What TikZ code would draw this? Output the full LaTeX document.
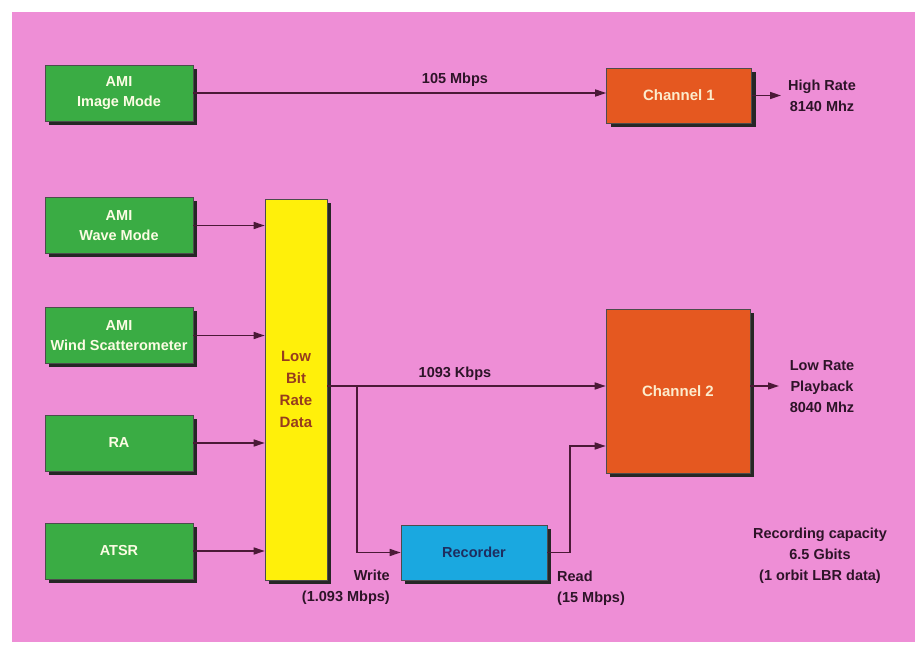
\documentclass[tikz,border=0pt]{standalone}
\usepackage{fontspec}
\setmainfont{Liberation Sans}
\usetikzlibrary{arrows.meta,shadows}
\definecolor{bgpink}{RGB}{238,142,214}
\definecolor{boxgreen}{RGB}{58,172,68}
\definecolor{chorange}{RGB}{229,88,32}
\definecolor{lbryellow}{RGB}{255,240,10}
\definecolor{recblue}{RGB}{26,168,224}
\definecolor{linecol}{RGB}{75,25,55}
\definecolor{labcol}{RGB}{45,20,40}
\definecolor{ybrown}{RGB}{150,60,30}
\definecolor{gtext}{RGB}{252,252,228}
\definecolor{ctext}{RGB}{252,236,205}
\definecolor{rtext}{RGB}{30,45,95}
\tikzset{
  shbox/.style={draw=black!70, line width=0.6pt, rectangle, inner sep=0pt,
    drop shadow={shadow xshift=4pt, shadow yshift=-4pt, opacity=1, fill=black!85}},
  srcbox/.style={shbox, fill=boxgreen, minimum width=148pt, minimum height=56pt,
    text=gtext, align=center, font=\bfseries\fontsize{14.5}{20}\selectfont},
  chbox/.style={shbox, fill=chorange, minimum width=145pt,
    text=ctext, align=center, font=\bfseries\fontsize{15}{16}\selectfont},
  conn/.style={draw=linecol, line width=1.5pt, -{Triangle[length=11pt,width=7pt]}},
  lab/.style={text=labcol, align=center, font=\bfseries\fontsize{14.5}{21}\selectfont, inner sep=0pt}
}
\begin{document}
\begin{tikzpicture}[x=1pt,y=-1pt]
\useasboundingbox (0,0) rectangle (922,647);
\fill[white] (0,0) rectangle (922,647);
\fill[bgpink] (12,12) rectangle (915,642);

% source boxes
\node[srcbox] (img)  at (119,93.5) {AMI\\Image Mode};
\node[srcbox] (wave) at (119,225.5) {AMI\\Wave Mode};
\node[srcbox] (wind) at (119,335.5) {AMI\\Wind Scatterometer};
\node[srcbox] (ra)   at (119,443) {RA};
\node[srcbox] (atsr) at (119,551) {ATSR};

% low bit rate data
\node[shbox, fill=lbryellow, minimum width=62pt, minimum height=381pt,
  text=ybrown, align=center, font=\bfseries\fontsize{15}{22}\selectfont] (lbr) at (296,389.5)
  {Low\\Bit\\Rate\\Data};

% channels
\node[chbox, minimum height=55pt] (ch1) at (679,95.5) {Channel 1};
\node[chbox, minimum width=144pt, minimum height=164pt] (ch2) at (678,391) {Channel 2};

% recorder
\node[shbox, fill=recblue, minimum width=146pt, minimum height=55pt,
  text=rtext, font=\bfseries\fontsize{14.5}{16}\selectfont] (rec) at (474,552.5) {Recorder};

% connectors
\draw[conn] (img.east |- 0,93) -- (ch1.west |- 0,93);
\draw[conn] (wave.east) -- (wave.east -| lbr.west);
\draw[conn] (wind.east) -- (wind.east -| lbr.west);
\draw[conn] (ra.east) -- (ra.east -| lbr.west);
\draw[conn] (atsr.east) -- (atsr.east -| lbr.west);

\coordinate (lbrout) at (lbr.east |- 0,386);
\coordinate (br) at (357,386);
\coordinate (rd) at (570,446);
\coordinate (out1) at (781,95.5);
\coordinate (out2) at (779,386);
\draw[conn] (lbrout) -- (lbrout -| ch2.west);
\draw[conn] (br) |- (rec.west);
\draw[conn] (rec.east) -| (rd) -- (rd -| ch2.west);
\draw[conn] (ch1.east) -- (out1);
\draw[conn] (ch2.east |- out2) -- (out2);

% labels
\node[lab] (l105) at (455,80) {105 Mbps};
\node[lab] (l1093) at (455,374) {1093 Kbps};
\node[lab] (lhigh) at (822,96) {High Rate\\8140 Mhz};
\node[lab] (llow) at (822,387) {Low Rate\\Playback\\8040 Mhz};
\node[lab] (lcap) at (820,556) {Recording capacity\\6.5 Gbits\\(1 orbit LBR data)};
\node[lab, anchor=east, align=right] (lwrite) at (390,587) {Write\\(1.093 Mbps)};
\node[lab, anchor=west, align=left] (lread) at (557,588) {Read\\(15 Mbps)};
\end{tikzpicture}
\end{document}
